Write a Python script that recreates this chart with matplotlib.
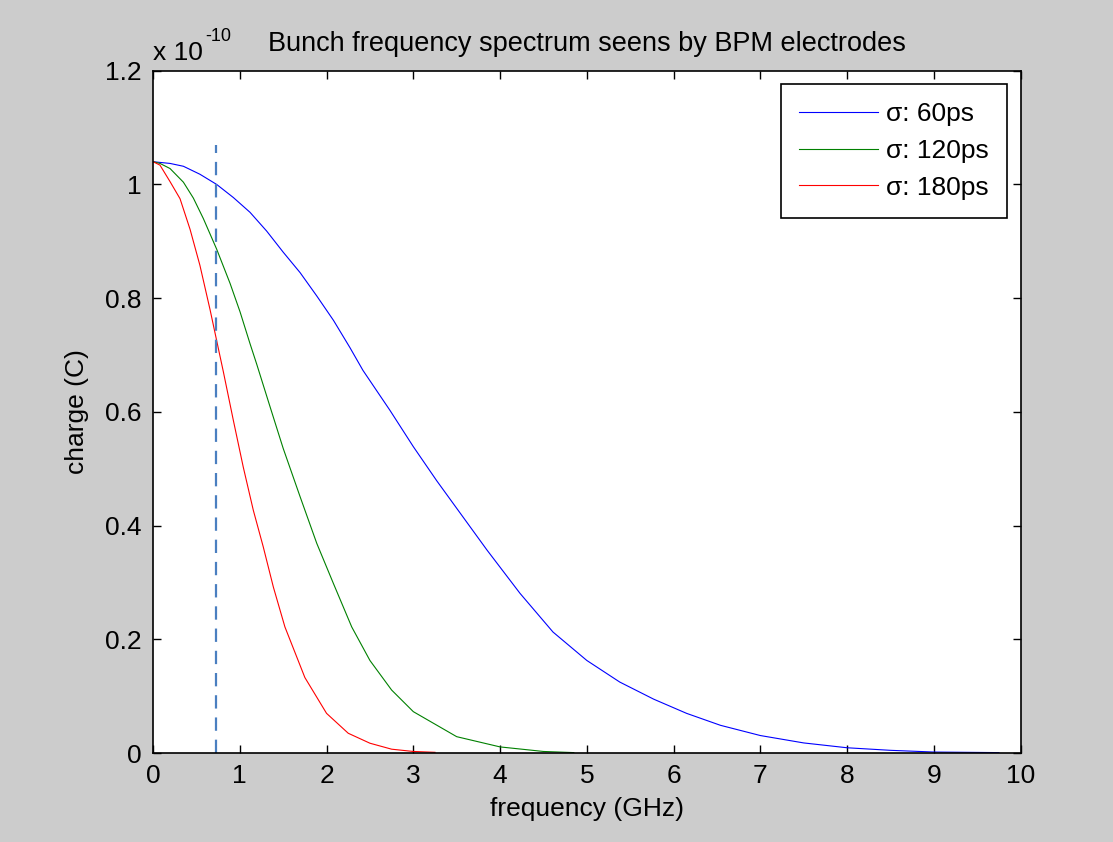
import matplotlib
matplotlib.use("Agg")
import matplotlib.pyplot as plt
import numpy as np

# values, charge in units of 1e-10 C
freq_60 = [0, 0.196, 0.35, 0.54, 0.734, 0.926, 1.118, 1.31, 1.5, 1.695, 1.887, 2.08, 2.27,
           2.42, 2.73, 3.0, 3.27, 3.46, 3.85, 4.23, 4.61, 5.0, 5.38, 5.77, 6.15, 6.54, 7.0,
           7.5, 8.0, 8.5, 9.0, 9.75]
charge_60 = [1.04, 1.037, 1.032, 1.018, 1.0, 0.977, 0.951, 0.918, 0.881, 0.845, 0.804, 0.761,
             0.713, 0.673, 0.603, 0.539, 0.479, 0.439, 0.357, 0.281, 0.213, 0.163, 0.125,
             0.095, 0.070, 0.049, 0.031, 0.018, 0.0095, 0.005, 0.002, 0.001]

freq_120 = [0, 0.08, 0.196, 0.35, 0.465, 0.58, 0.734, 0.888, 1.003, 1.118, 1.195, 1.349, 1.5,
            1.695, 1.887, 2.08, 2.29, 2.5, 2.75, 3.0, 3.5, 4.0, 4.5, 4.85]
charge_120 = [1.04, 1.037, 1.028, 1.004, 0.976, 0.940, 0.886, 0.826, 0.776, 0.720, 0.684,
              0.609, 0.536, 0.451, 0.369, 0.298, 0.222, 0.163, 0.111, 0.073, 0.029, 0.011,
              0.003, 0.001]

freq_180 = [0, 0.08, 0.196, 0.311, 0.427, 0.54, 0.657, 0.734, 0.81, 0.926, 1.04, 1.156, 1.27,
            1.387, 1.52, 1.75, 2.0, 2.25, 2.5, 2.75, 3.0, 3.25]
charge_180 = [1.04, 1.034, 1.005, 0.975, 0.921, 0.858, 0.780, 0.725, 0.671, 0.585, 0.503,
              0.427, 0.363, 0.292, 0.222, 0.133, 0.07, 0.035, 0.0175, 0.007, 0.003, 0.0015]

marker_freq = 0.73
marker_top = 1.07

plt.rcParams["font.family"] = ["Liberation Sans", "DejaVu Sans"]
fs = 19

fig = plt.figure(figsize=(11.13, 8.42), dpi=100, facecolor="#cccccc")
ax = fig.add_axes([0.1375, 0.1055, 0.7795, 0.8105])
ax.set_facecolor("white")

ax.plot(freq_60, charge_60, color="#0000ff", lw=0.8, label="σ: 60ps")
ax.plot(freq_120, charge_120, color="#008000", lw=0.8, label="σ: 120ps")
ax.plot(freq_180, charge_180, color="#ff0000", lw=0.8, label="σ: 180ps")
ax.plot([marker_freq, marker_freq], [0, marker_top], color="#4a7fc0", lw=1.6,
        dashes=(6, 4))

ax.set_xlim(0, 10)
ax.set_ylim(0, 1.2)
ax.set_xticks(np.arange(0, 11, 1))
ax.set_yticks(np.arange(0, 1.21, 0.2))
ax.set_yticklabels(["0", "0.2", "0.4", "0.6", "0.8", "1", "1.2"])
ax.tick_params(direction="in", top=True, right=True, length=6, width=1,
               labelsize=fs, pad=8)
for s in ax.spines.values():
    s.set_linewidth(1.2)

ax.set_title("Bunch frequency spectrum seens by BPM electrodes", fontsize=19.5, pad=14)
ax.set_xlabel("frequency (GHz)", fontsize=fs, labelpad=6)
ax.set_ylabel("charge (C)", fontsize=fs, labelpad=12)

ax.text(0.0, 1.008, "x 10", transform=ax.transAxes, fontsize=fs, ha="left", va="bottom")
ax.text(0.06, 1.038, "-10", transform=ax.transAxes, fontsize=13, ha="left", va="bottom")

leg = ax.legend(loc="upper right", fontsize=fs, handlelength=3.0, handletextpad=0.3,
                labelspacing=0.48, borderpad=0.7, borderaxespad=0.5, fancybox=False,
                framealpha=1, edgecolor="black")
leg.get_frame().set_linewidth(1.2)

fig.savefig("out.png", dpi=100, facecolor=fig.get_facecolor())
